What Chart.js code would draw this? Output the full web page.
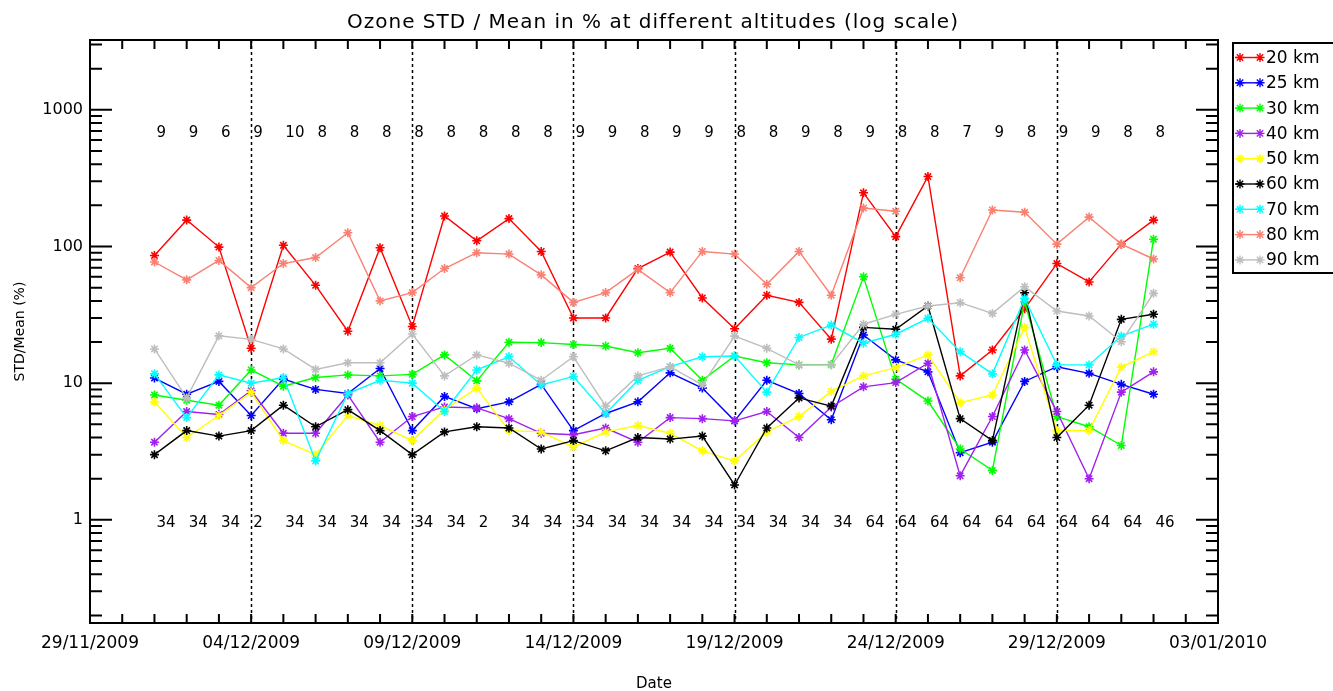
<!DOCTYPE html>
<html>
<head>
<meta charset="utf-8">
<title>Ozone STD / Mean</title>
<script src="https://cdn.jsdelivr.net/npm/chart.js@4.4.1/dist/chart.umd.min.js"></script>
<style>
    html, body { margin: 0; padding: 0; background: #fff; }
    #wrap { width: 1333px; height: 691px; }
</style>
</head>
<body>
<div id="wrap"><canvas id="ozoneChart" width="1333" height="691"></canvas></div>
<script>
// one point per day, 01/12/2009 .. 01/01/2010
const dates = [
    '01/12/2009', '02/12/2009', '03/12/2009', '04/12/2009', '05/12/2009', '06/12/2009', '07/12/2009', '08/12/2009',
    '09/12/2009', '10/12/2009', '11/12/2009', '12/12/2009', '13/12/2009', '14/12/2009', '15/12/2009', '16/12/2009',
    '17/12/2009', '18/12/2009', '19/12/2009', '20/12/2009', '21/12/2009', '22/12/2009', '23/12/2009', '24/12/2009',
    '25/12/2009', '26/12/2009', '27/12/2009', '28/12/2009', '29/12/2009', '30/12/2009', '31/12/2009', '01/01/2010'
];
const altitudes = ['20 km', '25 km', '30 km', '40 km', '50 km', '60 km', '70 km', '80 km', '90 km'];

// STD / mean in %
const km20 = [86, 156, 99, 18, 102, 52, 24, 98, 26, 167, 110, 160, 92, 30, 30, 69, 91, 42, 25, 44, 39, 21, 247, 118, 325, 11.3, 17.5, 35, 75, 55, 104, 156];
const km25 = [10.9, 8.3, 10.3, 5.8, 10.7, 9.0, 8.4, 12.8, 4.5, 8.0, 6.5, 7.3, 9.8, 4.5, 6.0, 7.3, 11.9, 9.2, 5.3, 10.5, 8.4, 5.4, 22.5, 14.8, 12.1, 3.1, 3.7, 10.3, 13.2, 11.8, 9.8, 8.3];
const km30 = [8.2, 7.5, 6.9, 12.5, 9.5, 11.0, 11.5, 11.3, 11.6, 16.1, 10.4, 19.9, 19.8, 19.2, 18.7, 16.7, 18.0, 10.5, 15.8, 14.1, 13.6, 13.7, 60, 10.7, 7.4, 3.3, 2.3, 39.4, 5.7, 4.8, 3.5, 113];
const km40 = [3.7, 6.2, 5.9, 8.8, 4.3, 4.3, 8.2, 3.7, 5.7, 6.7, 6.6, 5.5, 4.3, 4.2, 4.7, 3.7, 5.6, 5.5, 5.3, 6.2, 4.0, 6.7, 9.4, 10.1, 14, 2.1, 5.7, 17.5, 6.2, 2.0, 8.6, 12.1];
const km50 = [7.3, 4.0, 5.8, 8.6, 3.8, 3.0, 5.8, 4.9, 3.8, 6.4, 9.2, 4.5, 4.4, 3.4, 4.4, 4.9, 4.3, 3.2, 2.7, 4.4, 5.7, 8.7, 11.3, 13, 16.1, 7.2, 8.2, 25.5, 4.5, 4.5, 13.1, 17];
const km60 = [3.0, 4.5, 4.1, 4.5, 6.9, 4.8, 6.4, 4.5, 3.0, 4.4, 4.8, 4.7, 3.3, 3.8, 3.2, 4.0, 3.9, 4.1, 1.8, 4.7, 7.8, 6.8, 25.6, 24.8, 36.7, 5.5, 3.8, 45.9, 4.0, 6.9, 29.3, 31.9];
const km70 = [11.7, 5.6, 11.5, 10.0, 11.0, 2.7, 8.4, 10.5, 10.0, 6.2, 12.5, 15.6, 9.7, 11.2, 6.0, 10.5, 13.2, 15.6, 15.8, 8.6, 21.6, 26.6, 19.6, 22.8, 29.8, 17, 11.7, 41.7, 13.6, 13.6, 22.1, 27];
const km80 = [77, 57, 79, 50, 75, 83, 126, 40, 46, 69, 90, 88, 62, 39, 46, 68, 46, 92, 88, 53, 92, 44, 191, 181, null, 59, 185, 178, 104, 164, 104, 81];
const km90 = [17.8, 7.8, 22.2, 20.9, 17.8, 12.6, 14.1, 14.1, 22.9, 11.3, 16.1, 14.0, 10.5, 15.6, 6.8, 11.3, 13.2, 9.7, 22.1, 18, 13.6, 13.6, 27, 31.9, 36.7, 38.8, 32.4, 50.8, 33.7, 31, 20.1, 45.4];

// number of profiles used each day (upper and lower rows)
const topCounts = [9, 9, 6, 9, 10, 8, 8, 8, 8, 8, 8, 8, 8, 9, 9, 8, 9, 9, 8, 8, 9, 8, 9, 8, 8, 7, 9, 8, 9, 9, 8, 8];
const bottomCounts = [34, 34, 34, 2, 34, 34, 34, 34, 34, 34, 2, 34, 34, 34, 34, 34, 34, 34, 34, 34, 34, 34, 64, 64, 64, 64, 64, 64, 64, 64, 64, 46];

const yTickLabels = [1, 10, 100, 1000];

const seriesValues = [km20, km25, km30, km40, km50, km60, km70, km80, km90];
const seriesColors = ['#ff0000', '#0000ff', '#00ff00', '#a020f0', '#ffff00', '#000000', '#00ffff', '#fa8072', '#bebebe'];

const axisStart = Date.UTC(2009, 10, 29);
const DAY = 86400000;

function dayNumber(str) {
    const [d, m, y] = str.split('/').map(Number);
    return (Date.UTC(y, m - 1, d) - axisStart) / DAY;
}

function dateLabel(v) {
    const t = new Date(axisStart + v * DAY);
    const pad = n => String(n).padStart(2, '0');
    return pad(t.getUTCDate()) + '/' + pad(t.getUTCMonth() + 1) + '/' + t.getUTCFullYear();
}

const FONT = 'DejaVu Sans';
Chart.defaults.font.family = FONT;
Chart.defaults.color = '#000';

// IDL style frame: inward ticks on all four sides, dotted date lines,
// count rows, title and boxed legend
const idlFrame = {
    id: 'idlFrame',
    beforeDatasetsDraw(chart) {
        const { ctx, chartArea: a, scales: { x } } = chart;
        ctx.save();
        ctx.strokeStyle = '#000';
        ctx.lineWidth = 1.5;
        ctx.setLineDash([3, 3]);
        for (let d = 5; d < 35; d += 5) {
            const px = Math.round(x.getPixelForValue(d)) + 0.5;
            ctx.beginPath();
            ctx.moveTo(px, a.top);
            ctx.lineTo(px, a.bottom);
            ctx.stroke();
        }
        ctx.restore();
    },
    afterDatasetsDraw(chart) {
        const { ctx, chartArea: a, scales: { x, y } } = chart;
        ctx.save();
        ctx.strokeStyle = '#000';
        ctx.lineWidth = 2;
        ctx.strokeRect(a.left, a.top, a.right - a.left, a.bottom - a.top);

        // day ticks
        ctx.beginPath();
        for (let d = 1; d < 35; d++) {
            const px = x.getPixelForValue(d);
            ctx.moveTo(px, a.bottom);
            ctx.lineTo(px, a.bottom - 9);
            ctx.moveTo(px, a.top);
            ctx.lineTo(px, a.top + 9);
        }
        // log ticks
        for (let e = -1; e <= 3; e++) {
            for (let k = 1; k <= 9; k++) {
                const v = k * Math.pow(10, e);
                if (v < y.min || v > y.max) continue;
                const py = y.getPixelForValue(v);
                const len = k === 1 ? 22 : 12;
                ctx.moveTo(a.left, py);
                ctx.lineTo(a.left + len, py);
                ctx.moveTo(a.right, py);
                ctx.lineTo(a.right - len, py);
            }
        }
        ctx.stroke();

        // profile counts
        ctx.fillStyle = '#000';
        ctx.font = '15px ' + FONT;
        ctx.textAlign = 'left';
        ctx.textBaseline = 'middle';
        const yTop = y.getPixelForValue(680);
        const yBottom = y.getPixelForValue(1) + 3;
        dates.forEach((d, i) => {
            const px = x.getPixelForValue(dayNumber(d)) + 2;
            ctx.fillText(String(topCounts[i]), px, yTop);
            ctx.fillText(String(bottomCounts[i]), px, yBottom);
        });
        ctx.restore();
    },
    afterDraw(chart) {
        const { ctx, chartArea: a } = chart;
        ctx.save();
        ctx.fillStyle = '#000';

        ctx.font = '20px ' + FONT;
        ctx.letterSpacing = '1px';
        ctx.textAlign = 'center';
        ctx.textBaseline = 'middle';
        ctx.fillText('Ozone STD / Mean in % at different altitudes (log scale)', 653, 23);
        ctx.letterSpacing = '0px';

        ctx.font = '15px ' + FONT;
        ctx.fillText('Date', (a.left + a.right) / 2, 684);

        ctx.save();
        ctx.translate(20, (a.top + a.bottom) / 2);
        ctx.rotate(-Math.PI / 2);
        ctx.font = '14px ' + FONT;
        ctx.fillText('STD/Mean (%)', 0, 0);
        ctx.restore();

        // legend box
        ctx.strokeStyle = '#000';
        ctx.lineWidth = 2;
        ctx.strokeRect(1233, 43, 120, 230);
        ctx.font = '17px ' + FONT;
        ctx.textAlign = 'left';
        chart.data.datasets.forEach((ds, i) => {
            const ly = 57.5 + i * 25.3;
            ctx.strokeStyle = ds.borderColor;
            ctx.fillStyle = ds.borderColor;
            ctx.lineWidth = 1.4;
            ctx.beginPath();
            ctx.moveTo(1235, ly);
            ctx.lineTo(1261, ly);
            ctx.stroke();
            const mark = { pointStyle: 'star', radius: 4.5, borderWidth: 1.6, rotation: 0 };
            Chart.helpers.drawPoint(ctx, mark, 1240, ly);
            Chart.helpers.drawPoint(ctx, mark, 1260, ly);
            ctx.fillStyle = '#000';
            ctx.fillText(ds.label, 1266, ly + 1);
        });
        ctx.restore();
    }
};

const datasets = seriesValues.map((values, i) => ({
    label: altitudes[i],
    data: values.map((v, j) => ({ x: dayNumber(dates[j]), y: v })),
    borderColor: seriesColors[i],
    backgroundColor: seriesColors[i],
    borderWidth: 1.4,
    pointStyle: 'star',
    pointRadius: 4.5,
    pointBorderWidth: 1.6,
    pointHoverRadius: 4.5,
    tension: 0,
    spanGaps: false,
    order: seriesValues.length - i
}));

new Chart(document.getElementById('ozoneChart'), {
    type: 'line',
    data: { datasets },
    options: {
        responsive: false,
        animation: false,
        devicePixelRatio: 1,
        layout: { padding: { left: 0, right: 115, top: 40, bottom: 0 } },
        plugins: {
            legend: { display: false },
            title: { display: false },
            tooltip: { enabled: false }
        },
        scales: {
            x: {
                type: 'linear',
                position: 'bottom',
                min: 0,
                max: 35,
                grid: { display: false, drawTicks: false },
                border: { display: false },
                ticks: {
                    stepSize: 5,
                    autoSkip: false,
                    maxRotation: 0,
                    padding: 10,
                    font: { size: 17 },
                    callback: v => dateLabel(v)
                },
                afterFit: s => { s.height = 68; }
            },
            y: {
                type: 'logarithmic',
                min: 0.176,
                max: 3240,
                grid: { display: false, drawTicks: false },
                border: { display: false },
                ticks: {
                    autoSkip: false,
                    padding: 7,
                    font: { size: 16 },
                    callback: v => yTickLabels.includes(Math.round(v)) && Math.abs(v - Math.round(v)) < 1e-6 ? String(Math.round(v)) : ''
                },
                afterFit: s => { s.width = 90; }
            }
        }
    },
    plugins: [idlFrame]
});
</script>
</body>
</html>
